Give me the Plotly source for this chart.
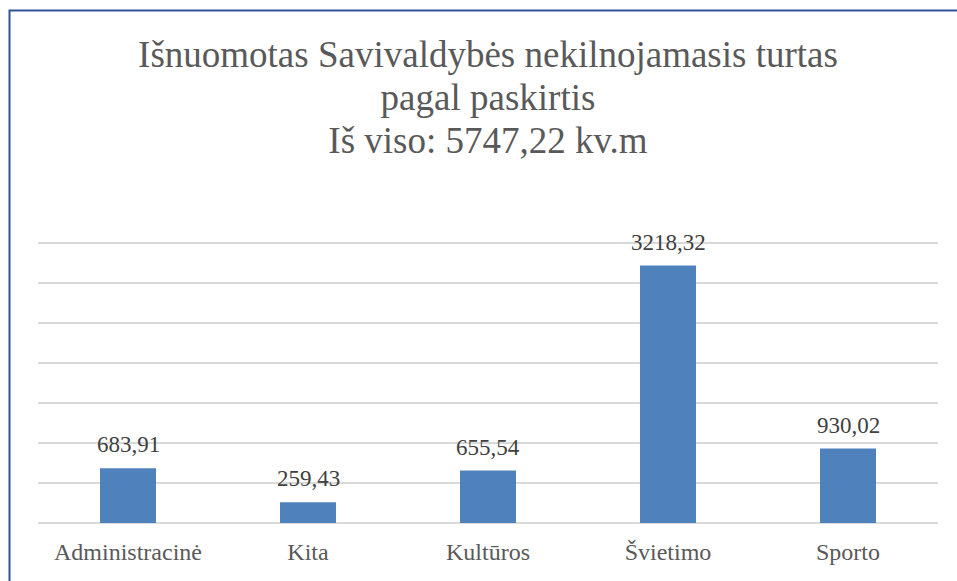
import plotly.graph_objects as go

categories = ["Administracinė", "Kita", "Kultūros", "Švietimo", "Sporto"]
values = [683.91, 259.43, 655.54, 3218.32, 930.02]
title_lines = ["Išnuomotas Savivaldybės nekilnojamasis turtas", "pagal paskirtis", "Iš viso: 5747,22 kv.m"]

W, H = 957, 581
L, R, T, B = 38, 19, 241, 58
FONT = "Liberation Serif, Times New Roman, serif"

fig = go.Figure()
fig.add_trace(go.Bar(
    x=categories, y=values,
    marker=dict(color="#4F81BD", line=dict(width=0)),
    hoverinfo="x+y",
))

for c, v in zip(categories, values):
    fig.add_annotation(
        x=c, y=v, xref="x", yref="y",
        text=f"{v:.2f}".replace(".", ","),
        showarrow=False, yanchor="bottom", yshift=9,
        font=dict(family=FONT, size=23, color="#404040"),
    )

title_text = "<br>".join(f'<span style="font-size:37px">{t}</span>' for t in title_lines)

fig.update_layout(
    width=W, height=H,
    margin=dict(l=L, r=R, t=T, b=B),
    paper_bgcolor="white", plot_bgcolor="white",
    bargap=0.689,
    showlegend=False,
    title=dict(
        text=title_text,
        x=0.5, xref="paper", xanchor="center",
        y=1 - 67 / H, yref="container", yanchor="top",
        font=dict(family=FONT, size=33, color="#595959"),
    ),
    xaxis=dict(
        showgrid=False, showline=False, zeroline=False,
        ticks="", ticklabelstandoff=12,
        tickfont=dict(family=FONT, size=24, color="#595959"),
    ),
    yaxis=dict(
        range=[0, 3525], dtick=500, tick0=0,
        showgrid=True, gridcolor="#D9D9D9", gridwidth=1.5,
        zeroline=True, zerolinecolor="#D9D9D9", zerolinewidth=1.5,
        showticklabels=False, showline=False, ticks="",
    ),
    shapes=[dict(
        type="rect", xref="paper", yref="paper",
        x0=(9.5 - L) / (W - L - R), x1=1.2,
        y0=-0.5, y1=(H - B - 10.5) / (H - T - B),
        line=dict(color="#2F5597", width=2), fillcolor="rgba(0,0,0,0)",
        layer="above",
    )],
)

fig.write_html("out.html", config={"displayModeBar": False},
               post_script="document.body.style.margin='0';")
